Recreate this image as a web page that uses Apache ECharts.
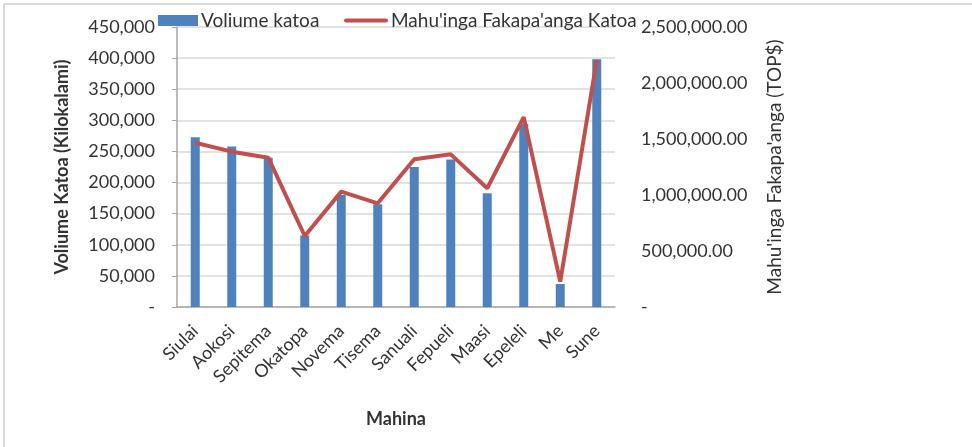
<!DOCTYPE html>
<html>
<head>
<meta charset="utf-8">
<script src="https://cdn.jsdelivr.net/npm/echarts@6/dist/echarts.min.js"></script>
<style>
  html, body { margin: 0; padding: 0; background: #fff; }
  #chart { width: 972px; height: 447px; }
</style>
</head>
<body>
<div id="chart"></div>
<script>
// mahina (months)
var months = ['Siulai', 'Aokosi', 'Sepitema', 'Okatopa', 'Novema', 'Tisema',
              'Sanuali', 'Fepueli', 'Maasi', 'Epeleli', 'Me', 'Sune'];
// voliume katoa (kg)
var volume = [273000, 258000, 240000, 115000, 180000, 165000,
              225000, 237000, 183000, 294000, 37000, 398000];
// mahu'inga fakapa'anga katoa (TOP$)
var value = [1467000, 1387000, 1333000, 634000, 1030000, 926000,
             1319000, 1363000, 1060000, 1695000, 226000, 2205000];

var font = 'Lato, "Open Sans", sans-serif';
var txt = '#333';

var chart = echarts.init(document.getElementById('chart'));

function fmtLeft(v) {
    if (v === 0) return '-';
    return v.toLocaleString('en-US');
}
function fmtRight(v) {
    if (v === 0) return '-';
    return v.toLocaleString('en-US', { minimumFractionDigits: 2, maximumFractionDigits: 2 });
}

var legendText = { fontFamily: font, fontSize: 19, color: txt, padding: [0, 0, 0, -2] };

var option = {
    animation: false,
    textStyle: { fontFamily: font },
    graphic: [
        { type: 'line', shape: { x1: 4, y1: 4, x2: 972, y2: 4 }, style: { stroke: '#d9d9d9', lineWidth: 2 } },
        { type: 'line', shape: { x1: 4, y1: 4, x2: 4, y2: 447 }, style: { stroke: '#d9d9d9', lineWidth: 2 } }
    ],
    legend: [
        {
            left: 153,
            top: 6,
            itemWidth: 40,
            itemHeight: 11,
            textStyle: legendText,
            data: [{ name: 'Voliume katoa', icon: 'rect' }]
        },
        {
            left: 339,
            top: 6,
            itemWidth: 44,
            itemHeight: 11,
            textStyle: legendText,
            data: [{ name: "Mahu'inga Fakapa'anga Katoa", icon: 'path://M2,0h40a2,2 0 0 1 0,4h-40a2,2 0 0 1 0,-4z' }]
        }
    ],
    grid: {
        left: 177,
        right: 357,
        top: 27,
        bottom: 140
    },
    xAxis: {
        type: 'category',
        data: months,
        name: 'Mahina',
        nameLocation: 'middle',
        nameGap: 103,
        nameTextStyle: { fontFamily: font, fontSize: 18, fontWeight: 'bold', color: txt },
        axisLine: { lineStyle: { color: '#a6a6a6', width: 1.5 } },
        axisTick: { show: false },
        axisLabel: { rotate: 45, margin: 21, fontSize: 18, color: txt, interval: 0 }
    },
    yAxis: [
        {
            type: 'value',
            min: 0,
            max: 450000,
            interval: 50000,
            name: 'Voliume Katoa (Kilokalami)',
            nameLocation: 'middle',
            nameGap: 106,
            nameTextStyle: { fontFamily: font, fontSize: 18, fontWeight: 'bold', color: txt },
            axisLine: { show: true, lineStyle: { color: '#a6a6a6', width: 1.5 } },
            axisTick: { show: true, length: 5, lineStyle: { color: '#a6a6a6' } },
            axisLabel: { margin: 22, fontSize: 18, color: txt, formatter: fmtLeft },
            splitLine: { lineStyle: { color: '#d9d9d9', width: 1.5 } }
        },
        {
            type: 'value',
            min: 0,
            max: 2500000,
            interval: 500000,
            position: 'right',
            name: "Mahu'inga Fakapa'anga (TOP$)",
            nameLocation: 'middle',
            nameGap: 150,
            nameRotate: 90,
            nameTextStyle: { fontFamily: font, fontSize: 19, color: txt },
            axisLine: { show: false },
            axisTick: { show: false },
            axisLabel: { margin: 26, fontSize: 18, color: txt, formatter: fmtRight },
            splitLine: { show: false }
        }
    ],
    series: [
        {
            name: 'Voliume katoa',
            type: 'bar',
            yAxisIndex: 0,
            data: volume,
            barWidth: 9,
            itemStyle: { color: '#4f81bd' }
        },
        {
            name: "Mahu'inga Fakapa'anga Katoa",
            type: 'line',
            yAxisIndex: 1,
            data: value,
            symbol: 'none',
            lineStyle: { color: '#c0504d', width: 4 },
            itemStyle: { color: '#c0504d' }
        }
    ]
};

chart.setOption(option);
</script>
</body>
</html>
